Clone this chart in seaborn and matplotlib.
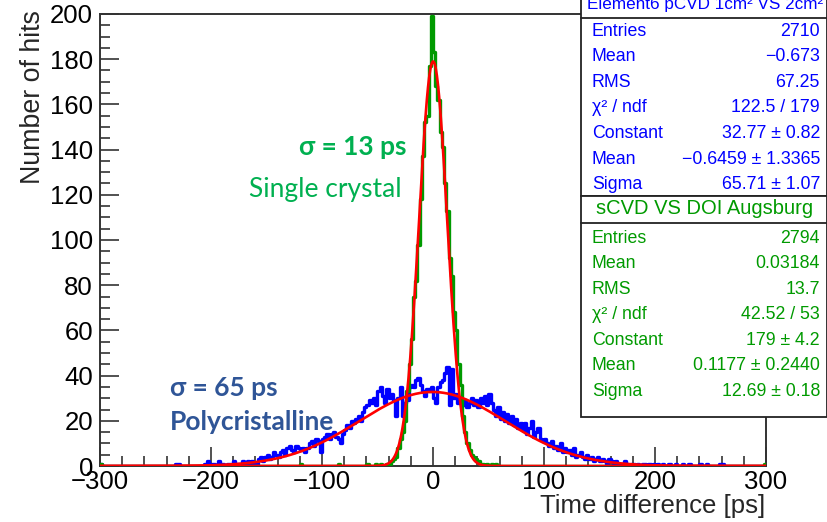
import numpy as np
import pandas as pd
import matplotlib
matplotlib.use("Agg")
import matplotlib.pyplot as plt
import seaborn as sns
from matplotlib.patches import Rectangle
from matplotlib.lines import Line2D

# ---------------- data ----------------
bin_width = 2.0
x_min, x_max = -300.0, 300.0

# pCVD (polycrystalline) counts, 2 ps bins from -300 to 300
poly_counts = [
    1, 0, 0, 0, 0, 0, 0, 0, 0, 0,          # -300
    0, 0, 0, 0, 0, 0, 0, 0, 0, 0,          # -280
    0, 0, 0, 0, 0, 0, 0, 0, 0, 0,          # -260
    0, 0, 0, 0, 1, 1, 0, 0, 0, 0,          # -240
    0, 0, 0, 0, 0, 0, 0, 1, 2, 1,          # -220
    1, 1, 0, 2, 1, 1, 0, 1, 1, 0,          # -200
    2, 1, 1, 0, 2, 1, 2, 1, 2, 1,          # -180
    1, 3, 4, 2, 4, 5, 3, 4, 6, 5,          # -160
    4, 6, 7, 5, 8, 9, 7, 6, 9, 8,          # -140
    7, 8, 6, 8, 10, 11, 9, 12, 11, 6,      # -120
    12, 13, 14, 12, 14, 15, 13, 12, 10, 14,  # -100
    16, 18, 17, 20, 19, 21, 22, 20, 24, 26,  # -80
    27, 29, 28, 30, 27, 33, 35, 31, 28, 34,  # -60
    30, 32, 29, 22, 30, 35, 22, 28, 29, 35,  # -40
    36, 35, 38, 39, 36, 33, 31, 34, 33, 35,  # -20
    30, 28, 35, 37, 38, 41, 44, 27, 43, 30,  # 0
    32, 28, 30, 27, 29, 26, 28, 30, 27, 29,  # 20
    26, 30, 28, 31, 27, 32, 28, 25, 22, 26,  # 40
    21, 24, 20, 23, 19, 22, 18, 21, 17, 19,  # 60
    16, 19, 14, 17, 20, 13, 15, 17, 12, 11,  # 80
    12, 10, 9, 11, 8, 9, 7, 10, 6, 8,        # 100
    6, 7, 5, 8, 4, 5, 6, 4, 3, 5,            # 120
    3, 4, 2, 3, 4, 2, 3, 2, 1, 3,            # 140
    2, 1, 2, 1, 0, 1, 2, 1, 0, 1,            # 160
    1, 0, 1, 0, 1, 1, 0, 1, 0, 1,            # 180
    0, 1, 0, 1, 0, 0, 1, 0, 0, 1,            # 200
    0, 0, 1, 0, 0, 1, 0, 0, 0, 0,            # 220
    1, 0, 0, 1, 0, 0, 0, 0, 0, 1,            # 240
    1, 0, 0, 0, 0, 0, 0, 0, 0, 0,            # 260
    0, 0, 0, 0, 0, 0, 0, 0, 0, 0,            # 280
]

# sCVD (single crystal) counts, 2 ps bins from -300 to 300
single_counts = [
    1, 0, 0, 0, 0, 0, 0, 0, 0, 0,          # -300
    0, 0, 0, 0, 0, 0, 0, 0, 0, 0,          # -280
    0, 0, 0, 0, 0, 0, 0, 0, 0, 0,          # -260
    0, 0, 0, 0, 0, 0, 0, 0, 0, 0,          # -240
    0, 0, 0, 0, 0, 0, 0, 0, 0, 0,          # -220
    0, 0, 0, 0, 0, 0, 0, 0, 0, 0,          # -200
    0, 0, 0, 0, 0, 0, 0, 0, 0, 0,          # -180
    0, 0, 0, 0, 0, 0, 0, 0, 0, 0,          # -160
    0, 0, 0, 0, 0, 0, 0, 0, 0, 0,          # -140
    1, 0, 0, 0, 0, 0, 0, 0, 0, 0,          # -120
    0, 0, 0, 0, 0, 0, 0, 1, 0, 0,          # -100
    0, 0, 0, 0, 0, 0, 0, 0, 0, 0,          # -80
    1, 0, 0, 0, 1, 0, 1, 0, 0, 1,          # -60
    1, 2, 3, 4, 8, 12, 15, 20, 33, 45,     # -40
    56, 75, 82, 98, 118, 137, 152, 155, 177, 199,  # -20
    183, 168, 162, 148, 141, 125, 113, 92, 84, 68,  # 0
    60, 45, 36, 22, 15, 10, 7, 5, 4, 3,    # 20
    2, 1, 1, 0, 1, 0, 1, 0, 1, 0,          # 40
    0, 0, 0, 0, 0, 0, 0, 0, 0, 0,          # 60
    0, 0, 0, 0, 0, 0, 0, 0, 0, 0,          # 80
    0, 0, 0, 0, 0, 0, 0, 0, 0, 0,          # 100
    0, 0, 0, 0, 0, 0, 0, 0, 0, 0,          # 120
    0, 0, 0, 0, 0, 0, 0, 0, 0, 0,          # 140
    0, 0, 0, 0, 0, 0, 0, 0, 0, 0,          # 160
    0, 0, 0, 0, 0, 0, 0, 0, 0, 0,          # 180
    0, 0, 0, 0, 0, 0, 0, 0, 0, 0,          # 200
    0, 0, 0, 0, 0, 0, 0, 0, 0, 0,          # 220
    0, 0, 0, 0, 0, 0, 0, 0, 0, 0,          # 240
    0, 0, 0, 0, 0, 0, 0, 0, 0, 0,          # 260
    0, 0, 0, 0, 0, 0, 0, 0, 0, 1,          # 280
]

# Gaussian fit parameters (from the stat boxes)
poly_fit = dict(const=32.77, mean=-0.6459, sigma=65.71)
single_fit = dict(const=179.0, mean=0.1177, sigma=12.69)

poly_stats_title = "Element6 pCVD 1cm² VS 2cm²"
poly_stats = [("Entries", "2710"), ("Mean", "\u22120.673"), ("RMS", "67.25"),
              ("χ² / ndf", "122.5 / 179"), ("Constant", "32.77 ± 0.82"),
              ("Mean", "\u22120.6459 ± 1.3365"), ("Sigma", "65.71 ± 1.07")]
single_stats_title = "sCVD VS DOI Augsburg"
single_stats = [("Entries", "2794"), ("Mean", "0.03184"), ("RMS", "13.7"),
                ("χ² / ndf", "42.52 / 53"), ("Constant", "179 ± 4.2"),
                ("Mean", "0.1177 ± 0.2440"), ("Sigma", "12.69 ± 0.18")]

x_ticks = [-300, -200, -100, 0, 100, 200, 300]
y_ticks = [0, 20, 40, 60, 80, 100, 120, 140, 160, 180, 200]

# ---------------- style ----------------
sns.set_style("ticks")
plt.rcParams["font.family"] = ["Liberation Sans", "DejaVu Sans"]

W, H = 828, 522
fig = plt.figure(figsize=(W / 100, H / 100), dpi=100)

def fx(x):
    return x / W

def fy(y):
    return 1 - y / H

ax_l, ax_r, ax_t, ax_b = 100, 766, 14, 466
ax = fig.add_axes([fx(ax_l), fy(ax_b), (ax_r - ax_l) / W, (ax_b - ax_t) / H])

n_bins = len(poly_counts)
centers = [x_min + bin_width * (i + 0.5) for i in range(n_bins)]
df_poly = pd.DataFrame({"t": centers, "n": poly_counts})
df_single = pd.DataFrame({"t": centers, "n": single_counts})

blue = "#0000ff"
green = "#009a00"
red = "#ff0000"

sns.histplot(data=df_poly, x="t", weights="n", binwidth=bin_width,
             binrange=(x_min, x_max), element="step",
             fill=False, color=blue, linewidth=2.4, ax=ax, zorder=2)
sns.histplot(data=df_single, x="t", weights="n", binwidth=bin_width,
             binrange=(x_min, x_max), element="step",
             fill=False, color=green, linewidth=2.4, ax=ax, zorder=3)

xs = np.linspace(x_min, x_max, 1201)
for p in (poly_fit, single_fit):
    ys = p["const"] * np.exp(-0.5 * ((xs - p["mean"]) / p["sigma"]) ** 2)
    sns.lineplot(x=xs, y=ys, color=red, linewidth=1.9, ax=ax, zorder=4)

ax.set_xlim(x_min, x_max)
ax.set_ylim(0, 200)
ax.set_xticks(x_ticks)
ax.set_yticks(y_ticks)
ax.set_xticklabels([str(v).replace("-", "\u2212") for v in x_ticks])
ax.set_xticks(np.arange(-300, 301, 20), minor=True)
ax.set_yticks(np.arange(0, 201, 5), minor=True)
ax.tick_params(axis="both", which="major", direction="in", length=14, width=1.2,
               color="#333333", labelsize=18.5, labelcolor="black")
ax.tick_params(axis="both", which="minor", direction="in", length=7, width=1.2,
               color="#333333")
ax.tick_params(axis="x", pad=3)
ax.tick_params(axis="y", pad=5)
for s in ax.spines.values():
    s.set_color("#333333")
    s.set_linewidth(1.4)
ax.set_xlabel("")
ax.set_ylabel("")

fig.text(fx(765), fy(506), "Time difference [ps]", ha="right", va="center",
         fontsize=18.5)
fig.text(fx(33), fy(10), "Number of hits", ha="center", va="top",
         rotation=90, fontsize=19.3)

# annotations
fig.text(fx(353), fy(147), "σ = 13 ps", ha="center", va="center",
         fontsize=19, fontweight="bold", color="#00b050", family=["Lato", "DejaVu Sans"])
fig.text(fx(325), fy(190), "Single crystal", ha="center", va="center",
         fontsize=19, color="#00b050", family=["Lato", "DejaVu Sans"])
fig.text(fx(170), fy(388), "σ = 65 ps", ha="left", va="center",
         fontsize=19, fontweight="bold", color="#2f5597", family=["Lato", "DejaVu Sans"])
fig.text(fx(170), fy(422), "Polycristalline", ha="left", va="center",
         fontsize=19, fontweight="bold", color="#2f5597", family=["Lato", "DejaVu Sans"])

# stat boxes
def stat_box(top, title_y, line_y, bottom, title, title_size, rows, row_y0, color):
    rect = Rectangle((fx(581), fy(bottom)), (827 - 581) / W, (bottom - top) / H,
                     transform=fig.transFigure, facecolor="white",
                     edgecolor="#222222", linewidth=1.3, zorder=5)
    fig.patches.append(rect)
    fig.lines.append(Line2D([fx(581), fx(827)], [fy(line_y), fy(line_y)],
                            transform=fig.transFigure, color="#222222",
                            linewidth=1.3, zorder=6))
    fig.text(fx(705), fy(title_y), title, ha="center", va="center",
             fontsize=title_size, color=color, zorder=7)
    for i, (k, v) in enumerate(rows):
        y = row_y0 + i * 25.6
        fig.text(fx(592), fy(y), k, ha="left", va="center", fontsize=12.8,
                 color=color, zorder=7)
        fig.text(fx(820), fy(y), v, ha="right", va="center", fontsize=12.8,
                 color=color, zorder=7)

stat_box(-30, 5, 18, 196, poly_stats_title, 12.3, poly_stats, 31, "#0000ff")
stat_box(196, 208, 223, 417, single_stats_title, 14.5, single_stats, 238, "#009a00")

fig.savefig("out.png", dpi=100)
